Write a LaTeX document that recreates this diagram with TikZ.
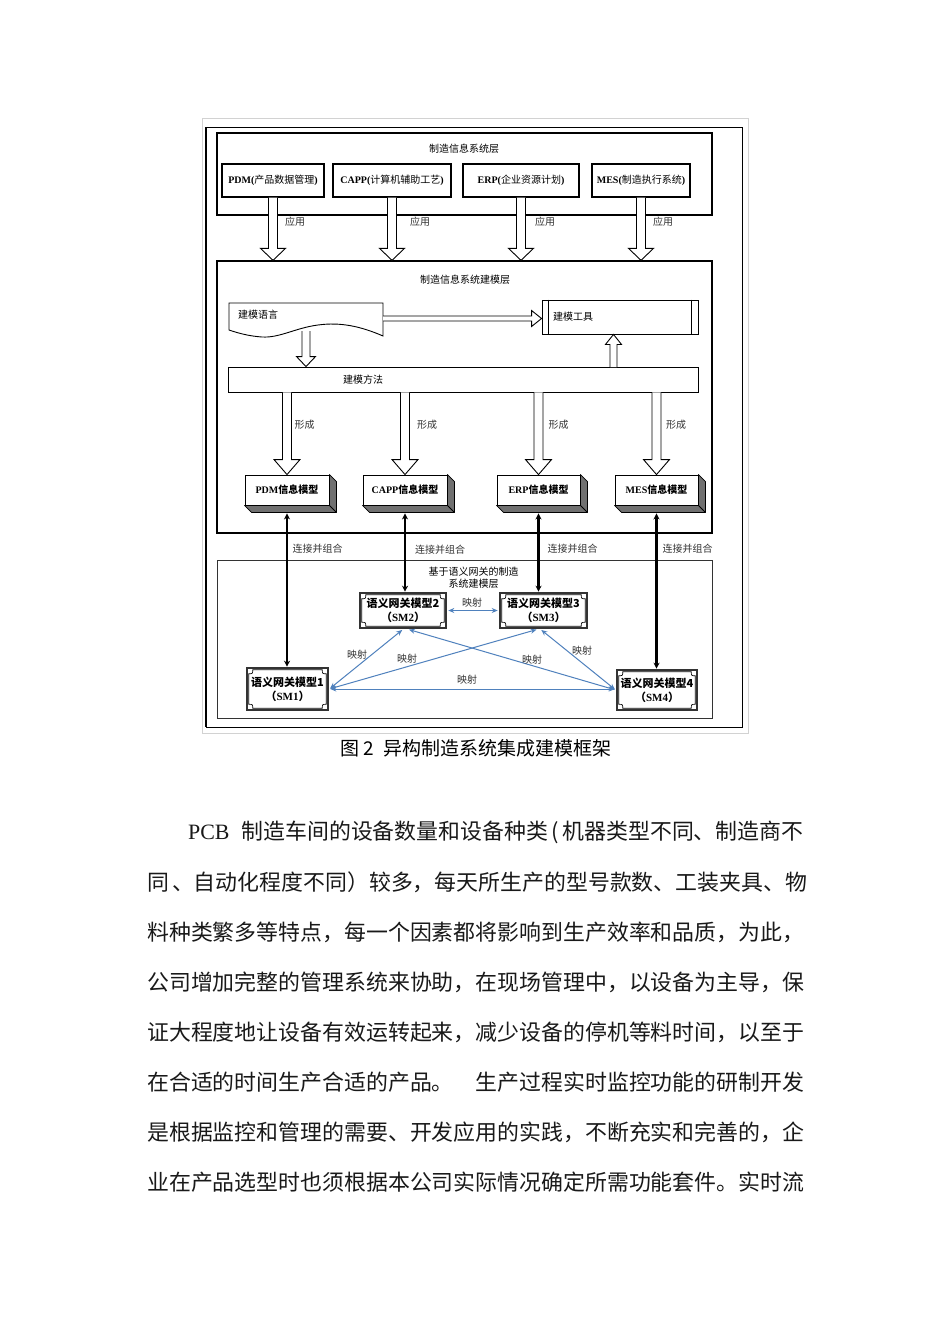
\documentclass[tikz,border=0pt]{standalone}
\usepackage{fontspec}
\setmainfont{Liberation Serif}
\newfontfamily\cjk{Noto Sans CJK SC}
\usetikzlibrary{calc,arrows.meta}
\newcommand\zh[1]{{\cjk #1}}
\newcommand\en[1]{{\rmfamily #1}}
\definecolor{mapblue}{HTML}{4F81BD}
\definecolor{labgray}{HTML}{333333}
\definecolor{sidegray}{HTML}{707070}
\newcommand\blkdown[5]{\filldraw[blk] ($(#1)+(-#3,0)$) -- ($(#2)+(-#3,-#5)$) -- ($(#2)+(-#4,-#5)$) -- (#2) -- ($(#2)+(#4,-#5)$) -- ($(#2)+(#3,-#5)$) -- ($(#1)+(#3,0)$);}
\newcommand\blkup[5]{\filldraw[blk] ($(#1)+(-#3,0)$) -- ($(#2)+(-#3,#5)$) -- ($(#2)+(-#4,#5)$) -- (#2) -- ($(#2)+(#4,#5)$) -- ($(#2)+(#3,#5)$) -- ($(#1)+(#3,0)$);}
\newcommand\blkright[5]{\filldraw[blk] ($(#1)+(0,-#3)$) -- ($(#2)+(-#5,-#3)$) -- ($(#2)+(-#5,-#4)$) -- (#2) -- ($(#2)+(-#5,#4)$) -- ($(#2)+(-#5,#3)$) -- ($(#1)+(0,#3)$);}
\newcommand\extrude[1]{\filldraw[fill=sidegray, draw=black, line width=0.8pt, line join=round] (#1.north east) -- ++(7,7) -- ($(#1.south east)+(7,7)$) -- ($(#1.south west)+(7,7)$) -- (#1.south west) -- (#1.south east) -- cycle; \draw[line width=0.8pt] (#1.south east) -- ++(7,7);}
\newcommand\smdeco[1]{\draw[smin] let \p1=(#1.north west), \p2=(#1.south east) in
 (\x1+7pt,\y1-3pt) -- (\x2-7pt,\y1-3pt) .. controls (\x2-7pt,\y1-7pt) .. (\x2-3pt,\y1-7pt)
 -- (\x2-3pt,\y2+7pt) .. controls (\x2-7pt,\y2+7pt) .. (\x2-7pt,\y2+3pt)
 -- (\x1+7pt,\y2+3pt) .. controls (\x1+7pt,\y2+7pt) .. (\x1+3pt,\y2+7pt)
 -- (\x1+3pt,\y1-7pt) .. controls (\x1+7pt,\y1-7pt) .. (\x1+7pt,\y1-3pt) -- cycle;}
\tikzset{
 layer/.style={draw, line width=1.3pt, inner sep=0pt},
 appbox/.style={draw, line width=1.3pt, fill=white, inner sep=0pt, minimum height=33pt, font=\fontsize{10}{12}\selectfont\bfseries},
 blk/.style={fill=white, draw=black, line width=0.9pt, line join=miter},
 lab/.style={font=\cjk\fontsize{10}{12}\selectfont, text=labgray, inner sep=0pt},
 ttl/.style={font=\cjk\fontsize{10}{12}\selectfont, text=black, inner sep=0pt},
 plainbox/.style={draw, line width=0.9pt, fill=white, inner sep=0pt},
 infobox/.style={draw, fill=white, line width=0.9pt, inner sep=0pt, minimum width=84pt, minimum height=30pt, font=\fontsize{10}{12}\selectfont\bfseries},
 smbox/.style={draw=gray!40!black, line width=2.6pt, fill=white, inner sep=0pt, align=center, font=\cjk\bfseries\fontsize{11}{14}\selectfont},
 smin/.style={line width=0.7pt, draw=black},
 link/.style={line width=2.4pt, {Stealth[length=6pt,width=6pt]}-{Stealth[length=6pt,width=6pt]}},
 maparr/.style={mapblue, line width=1pt, shorten <=1pt, shorten >=1pt, {Stealth[length=6pt,width=5pt]}-{Stealth[length=6pt,width=5pt]}},
 para/.style={font=\cjk\fontsize{21.9}{26}\selectfont, inner sep=0pt, anchor=west, text=black!90},
}
\begin{document}
\begin{tikzpicture}[x=1pt,y=-1pt]
\useasboundingbox (0,0) rectangle (950,1344);
\fill[white] (0,0) rectangle (950,1344);
% frames
\draw[gray!35, line width=1pt] (202,118) rectangle (748,733);
\draw[black, line width=0.8pt] (206,127) rectangle (742,727);
\draw[black, line width=2pt] (206,127) -- (206,727);
% layers
\node[layer, minimum width=495pt, minimum height=82pt] (L1) at (464.5,174) {};
\node[layer, minimum width=495pt, minimum height=272pt] (L2) at (464.5,397) {};
\node[layer, draw=gray!40!black, line width=0.8pt, minimum width=495pt, minimum height=158pt] (L3) at (464.5,639) {};
\node[ttl] (t1) at (464,149) {制造信息系统层};
\node[ttl] (t2) at (465,280) {制造信息系统建模层};
\node[ttl, align=center] (t3) at (473.5,578) {基于语义网关的制造\\系统建模层};
% application boxes
\node[appbox, minimum width=102pt] (pdm) at (273,180.5) {\en{PDM(}\zh{\mdseries 产品数据管理}\en{)}};
\node[appbox, minimum width=118pt] (capp) at (392,180.5) {\en{CAPP(}\zh{\mdseries 计算机辅助工艺}\en{)}};
\node[appbox, minimum width=116pt] (erp) at (521,180.5) {\en{ERP(}\zh{\mdseries 企业资源计划}\en{)}};
\node[appbox, minimum width=98pt] (mes) at (641,180.5) {\en{MES(}\zh{\mdseries 制造执行系统}\en{)}};
\foreach \b in {pdm,capp,erp,mes}{
 \coordinate (\b-e) at (\b.south |- L2.north);
 \blkdown{\b.south}{\b-e}{4.5}{12.5}{12}
}
\node[lab] (u1) at (295,222) {应用};
\node[lab] (u2) at (420,222) {应用};
\node[lab] (u3) at (545,222) {应用};
\node[lab] (u4) at (663,222) {应用};
% modelling language (wave shape)
\draw[line width=0.9pt, fill=white] (229,303) -- (383,303) -- (383,336)
 .. controls (360,326) and (340,322) .. (318,325)
 .. controls (295,328) and (280,338) .. (262,337)
 .. controls (248,336) and (238,333) .. (229,330) -- cycle;
\node[ttl, anchor=west] (lang) at (238,315) {建模语言};
% modelling tool
\node[plainbox, minimum width=156pt, minimum height=34pt] (tool) at (620,317) {};
\draw[line width=0.9pt] ([xshift=7pt]tool.north west) -- ([xshift=7pt]tool.south west);
\draw[line width=0.9pt] ([xshift=-7pt]tool.north east) -- ([xshift=-7pt]tool.south east);
\node[ttl, anchor=west] (toollab) at (553,317) {建模工具};
% modelling method bar
\node[plainbox, minimum width=470pt, minimum height=25pt] (bar) at (463,379.5) {};
\node[ttl] (barlab) at (363,380) {建模方法};
% arrows in modelling layer
\coordinate (hs) at (383,318.5);
\coordinate (he) at (tool.west |- hs);
\blkright{hs}{he}{2.5}{8}{10}
\coordinate (ls) at (306,331);
\coordinate (le) at (ls |- bar.north);
\blkdown{ls}{le}{4}{9.5}{10}
\coordinate (us) at (613.5,367);
\coordinate (ue) at (us |- tool.south);
\blkup{us}{ue}{3.5}{8}{10}
% info models
\node[infobox] (pdmi) at (287,490) {PDM\zh{信息模型}};
\node[infobox] (cappi) at (405,490) {CAPP\zh{信息模型}};
\node[infobox, minimum width=83pt] (erpi) at (538.5,490) {ERP\zh{信息模型}};
\node[infobox, minimum width=83pt] (mesi) at (656.5,490) {MES\zh{信息模型}};
\foreach \b in {pdmi,cappi,erpi,mesi}{
 \extrude{\b}
 \coordinate (\b-s) at (\b.north |- bar.south);
 \blkdown{\b-s}{\b.north}{4.5}{13}{15}
 \coordinate (\b-b) at ($(\b.south)+(0,8)$);
}
\node[lab] (f1) at (304.5,425) {形成};
\node[lab] (f2) at (427,425) {形成};
\node[lab] (f3) at (558.5,425) {形成};
\node[lab] (f4) at (676,425) {形成};
% semantic gateway models
\node[smbox, minimum width=81pt, minimum height=42pt] (sm1) at (287.5,689) {语义网关模型1\\（\en{SM1}）};
\node[smbox, minimum width=86pt, minimum height=35pt] (sm2) at (403,610.5) {语义网关模型2\\（\en{SM2}）};
\node[smbox, minimum width=87pt, minimum height=35pt] (sm3) at (543.5,610.5) {语义网关模型3\\（\en{SM3}）};
\node[smbox, minimum width=80pt, minimum height=40pt] (sm4) at (657,690) {语义网关模型4\\（\en{SM4}）};
\foreach \b in {sm1,sm2,sm3,sm4}{\smdeco{\b}}
% connect and combine
\draw[link] (pdmi-b) -- (pdmi-b |- sm1.north);
\draw[link] (cappi-b) -- (cappi-b |- sm2.north);
\draw[link] (erpi-b) -- (erpi-b |- sm3.north);
\draw[link] (mesi-b) -- (mesi-b |- sm4.north);
\node[lab] (c1) at (317.5,549) {连接并组合};
\node[lab] (c2) at (440,550) {连接并组合};
\node[lab] (c3) at (572.5,549) {连接并组合};
\node[lab] (c4) at (687.5,549) {连接并组合};
% mappings
\draw[maparr] (sm2.east) -- (sm3.west);
\draw[maparr] (sm1.east) -- (sm1.east -| sm4.west);
\draw[maparr] (sm1.east) -- (sm2.south);
\draw[maparr] (sm1.east) -- ([xshift=-6pt]sm3.south);
\draw[maparr] (sm4.west) -- ([xshift=5pt]sm2.south);
\draw[maparr] (sm4.west) -- ([xshift=-3pt]sm3.south);
\node[lab] (m1) at (472,603) {映射};
\node[lab] (m2) at (357,655) {映射};
\node[lab] (m3) at (407,659) {映射};
\node[lab] (m4) at (532,660) {映射};
\node[lab] (m5) at (582,651) {映射};
\node[lab] (m6) at (467,680) {映射};
% caption
\node[font=\cjk\fontsize{19}{22}\selectfont, anchor=west, inner sep=0pt] (cap) at (340,748) {图\hspace{4pt}2\hspace{10pt}异构制造系统集成建模框架};
% paragraph
\node[para] (p1) at (188,832) {{\rmfamily PCB}\hspace{12pt}制造车间的设备数量和设备种类\hspace{3pt}(\hspace{4pt}机器类型不同、制造商不};
\node[para] (p2) at (147,882) {同\hspace{3pt}、自动化程度不同）较多，每天所生产的型号款数、工装夹具、物};
\node[para] (p3) at (147,932) {料种类繁多等特点，每一个因素都将影响到生产效率和品质，为此，};
\node[para] (p4) at (147,982) {公司增加完整的管理系统来协助，在现场管理中，以设备为主导，保};
\node[para] (p5) at (147,1032) {证大程度地让设备有效运转起来，减少设备的停机等料时间，以至于};
\node[para] (p6) at (147,1082) {在合适的时间生产合适的产品。\hspace{22pt}生产过程实时监控功能的研制开发};
\node[para] (p7) at (147,1132) {是根据监控和管理的需要、开发应用的实践，不断充实和完善的，企};
\node[para] (p8) at (147,1182) {业在产品选型时也须根据本公司实际情况确定所需功能套件。实时流};
\end{tikzpicture}
\end{document}
